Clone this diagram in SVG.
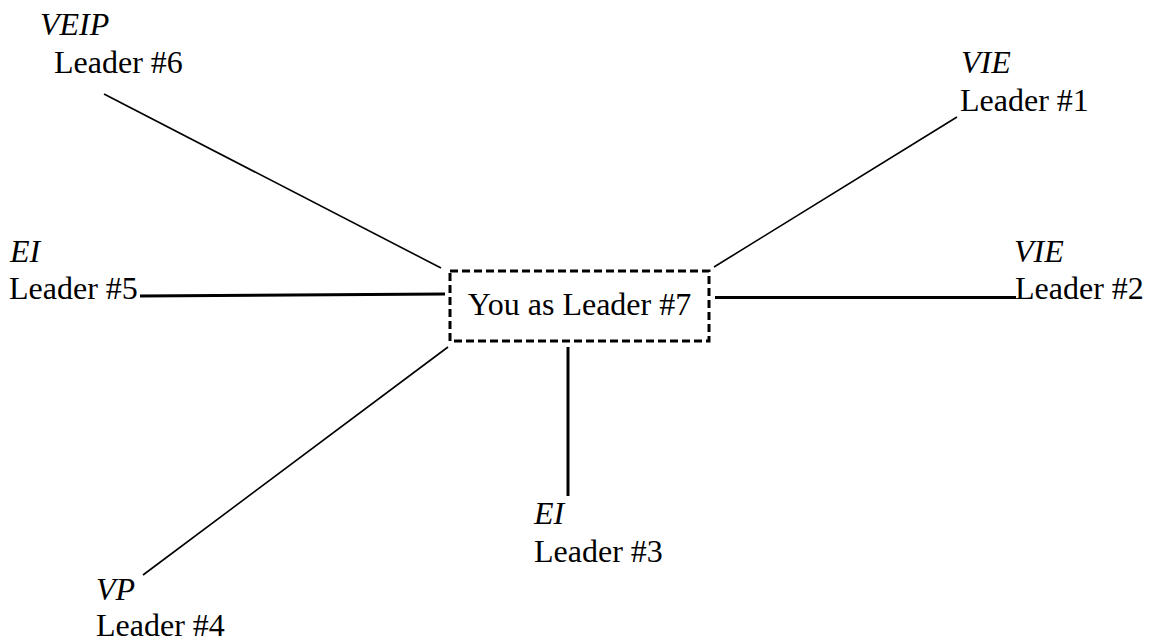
<svg xmlns="http://www.w3.org/2000/svg" width="1149" height="640" viewBox="0 0 1149 640">
<style>
text{font-family:"Liberation Serif","Times New Roman",serif;font-size:32px;fill:#000}
.it{font-style:italic}
.thin{stroke:#000;stroke-width:1.6;fill:none}
.thick{stroke:#000;stroke-width:3;fill:none}
</style>
<rect width="1149" height="640" fill="#fff"/>
<g id="connectors">
<line class="thin" x1="104" y1="94" x2="441" y2="268"/>
<line class="thin" x1="957" y1="117" x2="714" y2="267"/>
<line class="thick" x1="715" y1="297.5" x2="1016" y2="297.5"/>
<line class="thick" x1="140" y1="296" x2="445" y2="294"/>
<line class="thin" x1="143" y1="575" x2="448" y2="347"/>
<line class="thick" x1="568" y1="347" x2="568" y2="496"/>
</g>
<g id="center">
<rect x="450" y="271" width="259" height="70" fill="none" stroke="#000" stroke-width="3" stroke-dasharray="8,4"/>
<text x="579.5" y="315" text-anchor="middle">You as Leader #7</text>
</g>
<g id="leader6">
<text class="it" x="40" y="35">VEIP</text>
<text x="54" y="73">Leader #6</text>
</g>
<g id="leader1">
<text class="it" x="961" y="73">VIE</text>
<text x="960" y="111">Leader #1</text>
</g>
<g id="leader2">
<text class="it" x="1014" y="262">VIE</text>
<text x="1015" y="299">Leader #2</text>
</g>
<g id="leader5">
<text class="it" x="10" y="262">EI</text>
<text x="9" y="299">Leader #5</text>
</g>
<g id="leader4">
<text class="it" x="96" y="600">VP</text>
<text x="96" y="636">Leader #4</text>
</g>
<g id="leader3">
<text class="it" x="534" y="524">EI</text>
<text x="534" y="562">Leader #3</text>
</g>
</svg>
